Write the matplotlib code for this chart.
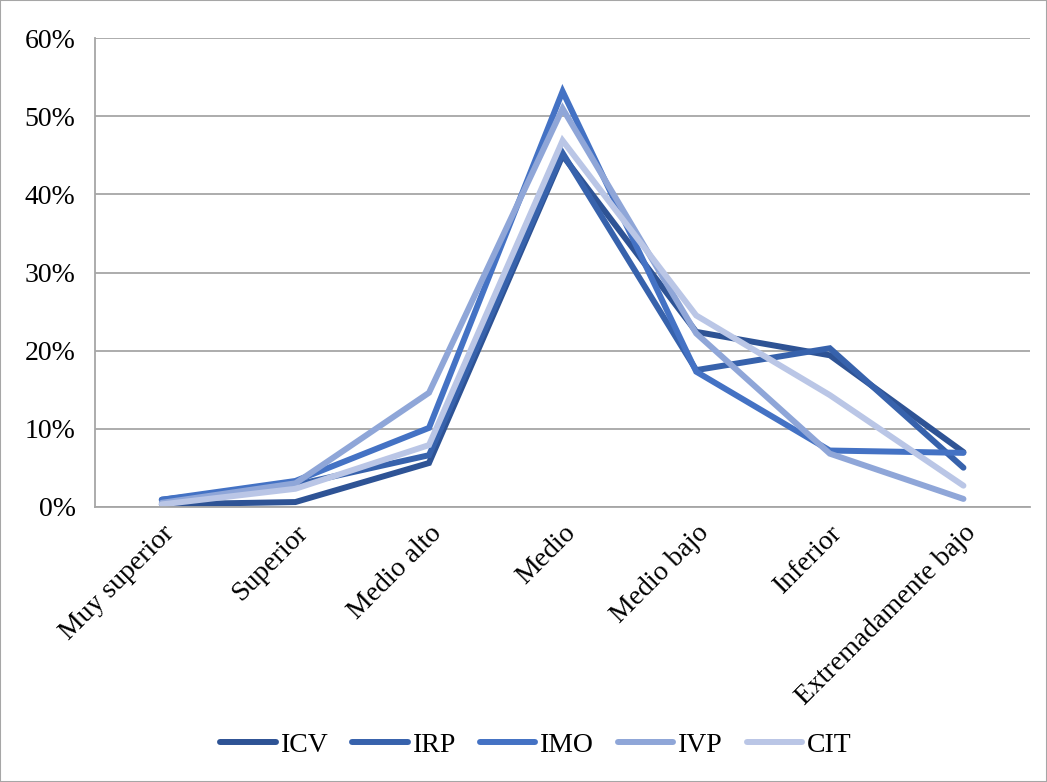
import matplotlib
matplotlib.use('Agg')
import matplotlib.pyplot as plt
from matplotlib import font_manager
from matplotlib.patches import Rectangle
from matplotlib.ticker import PercentFormatter

categories = ['Muy superior', 'Superior', 'Medio alto', 'Medio', 'Medio bajo',
              'Inferior', 'Extremadamente bajo']

# percentages
icv = [0.3, 0.6, 5.6, 45.0, 22.4, 19.4, 7.0]
irp = [0.9, 2.8, 6.6, 45.3, 17.5, 20.3, 5.0]
imo = [0.9, 3.3, 10.1, 53.2, 17.3, 7.2, 6.9]
ivp = [0.5, 3.0, 14.6, 51.0, 22.2, 6.8, 1.0]
cit = [0.3, 2.3, 7.9, 46.9, 24.5, 14.3, 2.7]

series_names = ['ICV', 'IRP', 'IMO', 'IVP', 'CIT']
series_colors = ['#2E5395', '#3762AC', '#4472C4', '#8FA6D8', '#BAC6E6']

# make sure the Times-like serif is registered
for f in font_manager.findSystemFonts():
    if 'LiberationSerif' in f.replace(' ', ''):
        font_manager.fontManager.addfont(f)
serif = 'DejaVu Serif'
for fe in font_manager.fontManager.ttflist:
    if fe.name.startswith('Liberation Serif'):
        serif = fe.name
        break
plt.rcParams['font.family'] = [serif, 'DejaVu Serif']

fig = plt.figure(figsize=(10.47, 7.82), dpi=100)
ax = fig.add_axes([0.0907, 0.352, 0.8933, 0.599])

x = range(len(categories))
for vals, name, col in zip([icv, irp, imo, ivp, cit], series_names, series_colors):
    ax.plot(x, vals, color=col, lw=4.3, label=name, solid_capstyle='round',
            solid_joinstyle='miter')

ax.set_xlim(-0.5, len(categories) - 0.5)
ax.set_ylim(0, 60)
ax.set_yticks(range(0, 61, 10))
ax.yaxis.set_major_formatter(PercentFormatter(decimals=0))
ax.set_xticks(list(x))
ax.set_xticklabels(categories, rotation=45, ha='right', rotation_mode='anchor')
ax.tick_params(axis='both', labelsize=20, length=0, colors='black')
ax.tick_params(axis='x', pad=10)
ax.tick_params(axis='y', pad=14)

ax.grid(axis='y', color='#A6A6A6', lw=1.3)
ax.set_axisbelow(True)
for side in ['top', 'right']:
    ax.spines[side].set_visible(False)
for side in ['left', 'bottom']:
    ax.spines[side].set_color('#A6A6A6')
    ax.spines[side].set_linewidth(1.3)

leg = fig.legend(loc='center', bbox_to_anchor=(0.512, 0.047), ncol=5, frameon=False,
                 fontsize=20, handlelength=2.0, handletextpad=0.18, columnspacing=0.85)

fig.patches.append(Rectangle((0, 0), 1, 1, transform=fig.transFigure, fill=False,
                             edgecolor='#A6A6A6', lw=1.5))

fig.savefig('out.png', dpi=100)
